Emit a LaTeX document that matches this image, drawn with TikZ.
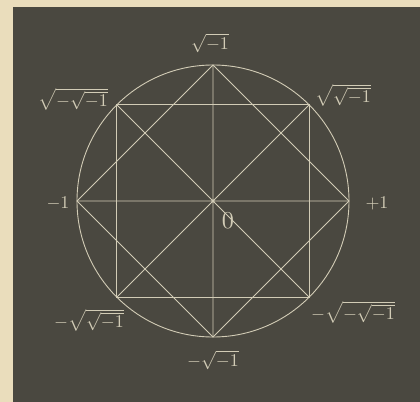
\documentclass[tikz,border=0pt]{standalone}
\usepackage{amsmath}
\usepackage{xcolor}
\usetikzlibrary{positioning}
\definecolor{bbSlate}{HTML}{4A4840}
\definecolor{bbChalk}{HTML}{D2CCB6}
\definecolor{bbPaper}{HTML}{EADDBC}

\begin{document}
\begin{tikzpicture}[x=1bp,y=1bp,
    chalk/.style={bbChalk,line width=0.9bp},
    lbl/.style={text=bbChalk,inner sep=0pt,scale=1.8}]
  \useasboundingbox (-213,-201) rectangle (207,201);
  \fill[bbPaper] (-213,-201) rectangle (207,201);
  \fill[bbSlate] (-200,-201) rectangle (207,194);
  % the eight points on the circle
  \foreach \k in {0,...,7} \coordinate (p\k) at (45*\k:136);
  \coordinate (o) at (0,0);
  \draw[chalk] (o) circle (136);
  % square and diamond
  \draw[chalk] (p1) -- (p3) -- (p5) -- (p7) -- cycle;
  \draw[chalk] (p0) -- (p2) -- (p4) -- (p6) -- cycle;
  % the four lines through 0
  \draw[chalk] (p0) -- (p4) (p2) -- (p6) (p1) -- (p5) (p3) -- (p7);
  \node[lbl] (l2) at (-3,158) {$\sqrt{-1}$};
  \node[lbl] (l1) at (130,106) {$\sqrt{\sqrt{-1}}$};
  \node[lbl] (l3) at (-140,102) {$\sqrt{-\sqrt{-1}}$};
  \node[lbl] (l4) at (-155,-2) {$-1$};
  \node[lbl] (l0) at (164,-2) {$+1$};
  \node[lbl,scale=1.35] (lo) at (15,-20) {$0$};
  \node[lbl] (l5) at (-124,-119) {$-\sqrt{\sqrt{-1}}$};
  \node[lbl] (l7) at (140,-111) {$-\sqrt{-\sqrt{-1}}$};
  \node[lbl] (l6) at (0,-159) {$-\sqrt{-1}$};
\end{tikzpicture}
\end{document}
